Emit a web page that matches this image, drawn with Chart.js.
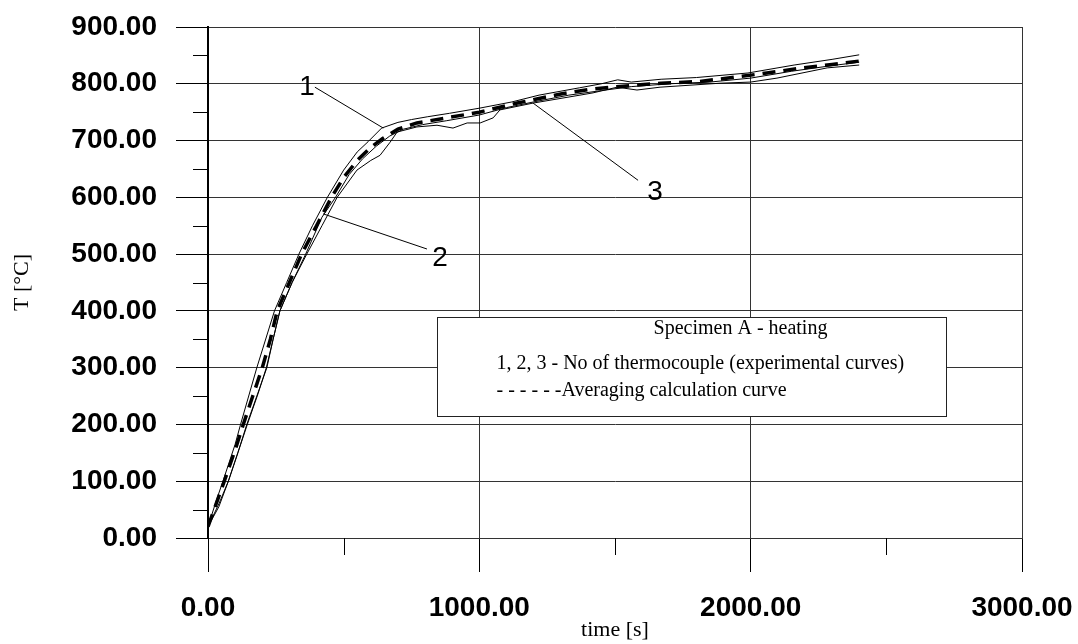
<!DOCTYPE html>
<html>
<head>
<meta charset="utf-8">
<script src="https://cdn.jsdelivr.net/npm/chart.js@4"></script>
<style>
  html, body { margin: 0; padding: 0; background: #fff; }
  canvas { display: block; }
</style>
</head>
<body>
<canvas id="myChart" width="1078" height="644"></canvas>
<script>
/* averaging calculation curve */
const timeAvg = [0, 30, 60, 100, 130, 165, 200, 230, 255, 300, 345, 400, 455, 500, 550, 600, 645, 700, 770, 880, 1000, 1140, 1300, 1420, 1560, 1670, 1810, 1950, 2060, 2190, 2300, 2400];
const tempAvg = [20, 60, 100, 155, 200, 250, 300, 350, 400, 450, 500, 550, 600, 635, 665, 688, 704, 720, 731, 740, 750, 766, 782, 791, 797, 801, 804, 812, 819, 828, 834, 840];

/* thermocouple 1 */
const time1 = [0, 30, 55, 100, 120, 180, 245, 290, 335, 385, 440, 500, 550, 590, 640, 700, 750, 810, 890, 1000, 1120, 1220, 1370, 1450, 1510, 1560, 1670, 1800, 1990, 2160, 2300, 2400];
const temp1 = [20, 65, 100, 165, 200, 300, 400, 450, 500, 550, 600, 648, 680, 698, 722, 732, 737, 742, 748, 757, 768, 780, 793, 800, 807, 803, 808, 811, 819, 833, 843, 851];

/* thermocouple 2 */
const time2 = [0, 40, 75, 110, 145, 185, 215, 265, 310, 360, 420, 470, 520, 570, 620, 670, 720, 790, 880, 1000, 1100, 1200, 1330, 1450, 1560, 1700, 1850, 2000, 2150, 2300, 2400];
const temp2 = [20, 60, 100, 150, 200, 255, 300, 400, 450, 500, 565, 600, 640, 668, 690, 708, 720, 728, 735, 745, 758, 768, 780, 788, 795, 800, 803, 810, 822, 832, 838];

/* thermocouple 3 */
const time3 = [0, 40, 75, 110, 143, 180, 217, 240, 265, 310, 364, 420, 476, 549, 600, 634, 671, 697, 770, 844, 903, 955, 1003, 1051, 1076, 1198, 1371, 1419, 1508, 1581, 1666, 1887, 2000, 2097, 2282, 2400];
const temp3 = [20, 55, 100, 150, 200, 250, 300, 350, 400, 450, 500, 550, 600, 648, 665, 674, 697, 715, 724, 727, 722, 731, 731, 740, 754, 766, 780, 784, 794, 789, 794, 801, 803, 810, 828, 833];

const legendLines = [
  'Specimen A - heating',
  '1, 2, 3 - No of thermocouple (experimental curves)',
  '- - - - - -Averaging calculation curve'
];

// curve numbers with their leader lines, in data units
const notes = [
  { text: '1', at: [365, 794], from: [394, 794], to: [646, 722] },
  { text: '2', at: [855, 493], from: [424, 571], to: [807, 509] },
  { text: '3', at: [1648, 609], from: [1198, 766], to: [1585, 630] }
];

const SANS = "'Liberation Sans', Arial, sans-serif";
const SERIF = "'Liberation Serif', 'Times New Roman', serif";

function pts(xs, ys) {
  return xs.map((v, i) => ({ x: v, y: ys[i] }));
}

const extras = {
  id: 'extras',
  afterDraw(chart) {
    const { ctx, scales: { x, y } } = chart;
    ctx.save();

    // minor ticks
    ctx.strokeStyle = '#000';
    ctx.lineWidth = 1;
    ctx.beginPath();
    for (let v = 50; v < 900; v += 100) {
      const py = Math.round(y.getPixelForValue(v)) + 0.5;
      ctx.moveTo(x.left - 15, py);
      ctx.lineTo(x.left, py);
    }
    for (let v = 500; v < 3000; v += 1000) {
      const px = Math.round(x.getPixelForValue(v)) + 0.5;
      ctx.moveTo(px, y.bottom);
      ctx.lineTo(px, y.bottom + 17);
    }
    ctx.stroke();

    // leader lines + numbers
    ctx.fillStyle = '#000';
    ctx.font = '28px ' + SANS;
    ctx.textAlign = 'center';
    ctx.textBaseline = 'middle';
    notes.forEach(n => {
      ctx.beginPath();
      ctx.moveTo(x.getPixelForValue(n.from[0]), y.getPixelForValue(n.from[1]));
      ctx.lineTo(x.getPixelForValue(n.to[0]), y.getPixelForValue(n.to[1]));
      ctx.stroke();
      ctx.fillText(n.text, x.getPixelForValue(n.at[0]), y.getPixelForValue(n.at[1]));
    });

    // legend box
    const bx = Math.round(x.getPixelForValue(844)) + 0.5;
    const bx2 = Math.round(x.getPixelForValue(2720)) + 0.5;
    const by = Math.round(y.getPixelForValue(389)) + 0.5;
    const by2 = Math.round(y.getPixelForValue(215)) + 0.5;
    ctx.fillStyle = '#fff';
    ctx.fillRect(bx, by, bx2 - bx, by2 - by);
    ctx.strokeStyle = '#222';
    ctx.strokeRect(bx, by, bx2 - bx, by2 - by);
    ctx.fillStyle = '#000';
    ctx.font = '20px ' + SERIF;
    ctx.textAlign = 'center';
    ctx.fillText(legendLines[0], bx + 303, by + 11);
    ctx.textAlign = 'left';
    ctx.fillText(legendLines[1], bx + 59, by + 46);
    ctx.fillText(legendLines[2], bx + 59, by + 73);

    ctx.restore();
  }
};

const ctx = document.getElementById('myChart');
new Chart(ctx, {
  type: 'line',
  data: {
    datasets: [
      { label: 'avg', data: pts(timeAvg, tempAvg), borderColor: '#000', borderWidth: 3.5, borderDash: [13, 8] },
      { label: '1', data: pts(time1, temp1), borderColor: '#000', borderWidth: 1 },
      { label: '2', data: pts(time2, temp2), borderColor: '#000', borderWidth: 1 },
      { label: '3', data: pts(time3, temp3), borderColor: '#000', borderWidth: 1 }
    ]
  },
  options: {
    responsive: false,
    animation: false,
    devicePixelRatio: 1,
    layout: { padding: { left: 0, top: 27, right: 56, bottom: 0 } },
    elements: { point: { radius: 0 }, line: { tension: 0 } },
    plugins: { legend: { display: false }, tooltip: { enabled: false } },
    scales: {
      x: {
        type: 'linear',
        min: 0,
        max: 3000,
        ticks: {
          stepSize: 1000,
          color: '#000',
          padding: 19,
          maxRotation: 0,
          font: { size: 28, family: SANS, weight: 'bold' },
          callback: v => v.toFixed(2)
        },
        grid: { color: '#333', tickLength: 34, tickColor: '#000' },
        border: { color: '#333' },
        title: { display: true, text: 'time [s]', color: '#000', font: { size: 22, family: SERIF }, padding: { top: 0, bottom: 1 } },
        afterFit: s => { s.height = 106; s.paddingLeft = 0; s.paddingRight = 0; }
      },
      y: {
        min: 0,
        max: 900,
        ticks: {
          stepSize: 100,
          color: '#000',
          padding: 19,
          font: { size: 28, family: SANS, weight: 'bold' },
          callback: v => v.toFixed(2)
        },
        grid: { color: '#333', tickLength: 32, tickColor: '#000' },
        border: { color: '#000', width: 2 },
        title: { display: true, text: 'T [°C]', color: '#000', font: { size: 22, family: SERIF }, padding: { top: 9, bottom: 0 } },
        afterFit: s => { s.width = 208; s.paddingTop = 0; s.paddingBottom = 0; }
      }
    }
  },
  plugins: [extras]
});
</script>
</body>
</html>
